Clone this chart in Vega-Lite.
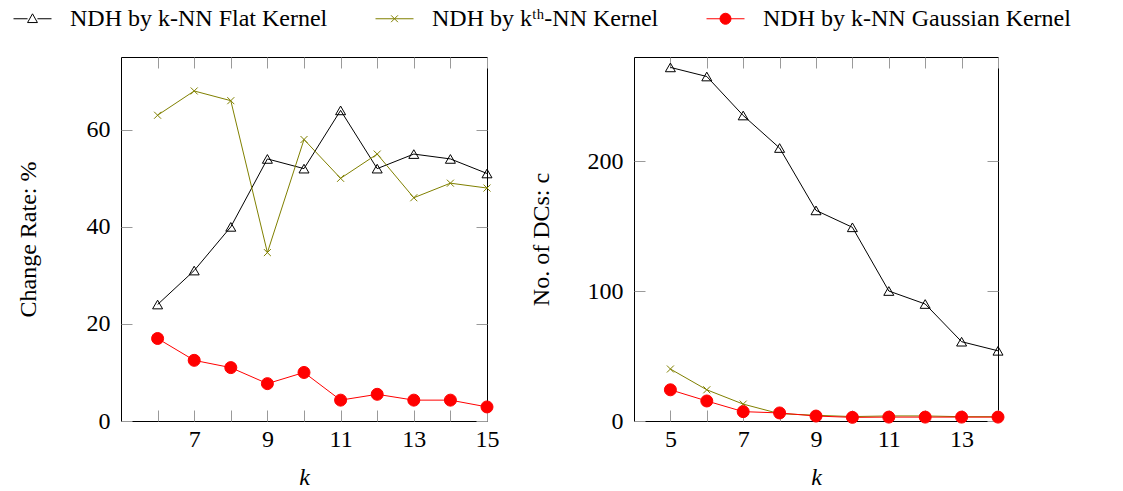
{
  "$schema": "https://vega.github.io/schema/vega-lite/v6.json",
  "padding": {"left": 12, "top": -2, "right": 5, "bottom": 5},
  "background": "white",
  "bounds": "flush",
  "spacing": 147,
  "config": {
    "font": "'Liberation Serif', 'DejaVu Serif', serif",
    "view": {"stroke": "black", "strokeWidth": 1},
    "axis": {
      "labelFont": "'Liberation Serif', 'DejaVu Serif', serif", "labelFontSize": 24, "labelColor": "black",
      "titleFont": "'Liberation Serif', 'DejaVu Serif', serif", "titleFontSize": 24, "titleFontWeight": "normal", "titleColor": "black",
      "tickColor": "#9a9a9a", "tickSize": -11, "tickWidth": 1, "domain": false, "grid": false,
      "labelFlush": false, "labelOverlap": false
    },
    "axisX": {"labelPadding": 36, "labelBaseline": "alphabetic"},
    "axisY": {"labelPadding": 22}
  },
  "datasets": {
    "left": [
      {"k": 6, "series": "NDH by k-NN Flat Kernel", "v": 24},
      {"k": 7, "series": "NDH by k-NN Flat Kernel", "v": 31},
      {"k": 8, "series": "NDH by k-NN Flat Kernel", "v": 40},
      {"k": 9, "series": "NDH by k-NN Flat Kernel", "v": 54},
      {"k": 10, "series": "NDH by k-NN Flat Kernel", "v": 52},
      {"k": 11, "series": "NDH by k-NN Flat Kernel", "v": 64},
      {"k": 12, "series": "NDH by k-NN Flat Kernel", "v": 52},
      {"k": 13, "series": "NDH by k-NN Flat Kernel", "v": 55},
      {"k": 14, "series": "NDH by k-NN Flat Kernel", "v": 54},
      {"k": 15, "series": "NDH by k-NN Flat Kernel", "v": 51},
      {"k": 6, "series": "NDH by kᵗʰ-NN Kernel", "v": 63},
      {"k": 7, "series": "NDH by kᵗʰ-NN Kernel", "v": 68},
      {"k": 8, "series": "NDH by kᵗʰ-NN Kernel", "v": 66},
      {"k": 9, "series": "NDH by kᵗʰ-NN Kernel", "v": 34.7},
      {"k": 10, "series": "NDH by kᵗʰ-NN Kernel", "v": 58},
      {"k": 11, "series": "NDH by kᵗʰ-NN Kernel", "v": 50},
      {"k": 12, "series": "NDH by kᵗʰ-NN Kernel", "v": 55},
      {"k": 13, "series": "NDH by kᵗʰ-NN Kernel", "v": 46},
      {"k": 14, "series": "NDH by kᵗʰ-NN Kernel", "v": 49},
      {"k": 15, "series": "NDH by kᵗʰ-NN Kernel", "v": 48},
      {"k": 6, "series": "NDH by k-NN Gaussian Kernel", "v": 17},
      {"k": 7, "series": "NDH by k-NN Gaussian Kernel", "v": 12.5},
      {"k": 8, "series": "NDH by k-NN Gaussian Kernel", "v": 11},
      {"k": 9, "series": "NDH by k-NN Gaussian Kernel", "v": 7.7},
      {"k": 10, "series": "NDH by k-NN Gaussian Kernel", "v": 10},
      {"k": 11, "series": "NDH by k-NN Gaussian Kernel", "v": 4.3},
      {"k": 12, "series": "NDH by k-NN Gaussian Kernel", "v": 5.5},
      {"k": 13, "series": "NDH by k-NN Gaussian Kernel", "v": 4.3},
      {"k": 14, "series": "NDH by k-NN Gaussian Kernel", "v": 4.3},
      {"k": 15, "series": "NDH by k-NN Gaussian Kernel", "v": 2.9}
    ],
    "right": [
      {"k": 5, "series": "NDH by k-NN Flat Kernel", "v": 272},
      {"k": 6, "series": "NDH by k-NN Flat Kernel", "v": 265},
      {"k": 7, "series": "NDH by k-NN Flat Kernel", "v": 235},
      {"k": 8, "series": "NDH by k-NN Flat Kernel", "v": 210},
      {"k": 9, "series": "NDH by k-NN Flat Kernel", "v": 162},
      {"k": 10, "series": "NDH by k-NN Flat Kernel", "v": 149},
      {"k": 11, "series": "NDH by k-NN Flat Kernel", "v": 100},
      {"k": 12, "series": "NDH by k-NN Flat Kernel", "v": 90},
      {"k": 13, "series": "NDH by k-NN Flat Kernel", "v": 61},
      {"k": 14, "series": "NDH by k-NN Flat Kernel", "v": 54},
      {"k": 5, "series": "NDH by kᵗʰ-NN Kernel", "v": 40},
      {"k": 6, "series": "NDH by kᵗʰ-NN Kernel", "v": 24},
      {"k": 7, "series": "NDH by kᵗʰ-NN Kernel", "v": 13},
      {"k": 8, "series": "NDH by kᵗʰ-NN Kernel", "v": 5.6},
      {"k": 9, "series": "NDH by kᵗʰ-NN Kernel", "v": 4.4},
      {"k": 10, "series": "NDH by kᵗʰ-NN Kernel", "v": 3.4},
      {"k": 11, "series": "NDH by kᵗʰ-NN Kernel", "v": 3.9},
      {"k": 12, "series": "NDH by kᵗʰ-NN Kernel", "v": 3.9},
      {"k": 13, "series": "NDH by kᵗʰ-NN Kernel", "v": 3.3},
      {"k": 14, "series": "NDH by kᵗʰ-NN Kernel", "v": 3.3},
      {"k": 5, "series": "NDH by k-NN Gaussian Kernel", "v": 24},
      {"k": 6, "series": "NDH by k-NN Gaussian Kernel", "v": 15.4},
      {"k": 7, "series": "NDH by k-NN Gaussian Kernel", "v": 7.2},
      {"k": 8, "series": "NDH by k-NN Gaussian Kernel", "v": 6.2},
      {"k": 9, "series": "NDH by k-NN Gaussian Kernel", "v": 3.8},
      {"k": 10, "series": "NDH by k-NN Gaussian Kernel", "v": 2.8},
      {"k": 11, "series": "NDH by k-NN Gaussian Kernel", "v": 3},
      {"k": 12, "series": "NDH by k-NN Gaussian Kernel", "v": 3},
      {"k": 13, "series": "NDH by k-NN Gaussian Kernel", "v": 3},
      {"k": 14, "series": "NDH by k-NN Gaussian Kernel", "v": 3}
    ]
  },
  "resolve": {
    "scale": {"x": "independent", "y": "independent", "color": "independent"},
    "legend": {"color": "independent"}
  },
  "hconcat": [
    {
      "width": 366, "height": 364,
      "data": {"name": "left"},
      "layer": [
        {
          "mark": {"type": "line", "strokeWidth": 1},
          "encoding": {
            "x": {"field": "k", "type": "quantitative", "scale": {"domain": [5, 15], "nice": false, "zero": false},
                  "axis": {"orient": "bottom", "values": [6, 7, 8, 9, 10, 11, 12, 13, 14, 15], "labelExpr": "datum.value % 2 == 1 ? datum.label : ''",
                           "title": "k", "titleFontStyle": "italic", "titleY": 63, "titleBaseline": "alphabetic"}},
            "y": {"field": "v", "type": "quantitative", "scale": {"domain": [0, 75], "nice": false},
                  "axis": {"orient": "left", "values": [0, 20, 40, 60], "title": "Change Rate: %", "titleX": -86, "titleBaseline": "alphabetic"}},
            "color": {"field": "series", "type": "nominal",
                      "scale": {"domain": ["NDH by k-NN Flat Kernel", "NDH by kᵗʰ-NN Kernel", "NDH by k-NN Gaussian Kernel"], "range": ["#000000", "#808000", "#ff0000"]},
                      "legend": {
                        "orient": "none", "legendX": -108, "legendY": -58, "direction": "horizontal", "title": null,
                        "labelFont": "'Liberation Serif', 'DejaVu Serif', serif", "labelFontSize": 24, "labelColor": "black", "labelLimit": 0,
                        "symbolSize": 1444, "labelOffset": 18, "columnPadding": 45, "padding": 0,
                        "encode": {
                          "symbols": {
                            "update": {
                              "shape": {"signal": "datum.value === 'NDH by k-NN Flat Kernel' ? 'M-1,0H-0.26M0.26,0H1M0,-0.26L0.26,0.2L-0.26,0.2Z' : (datum.value === 'NDH by k-NN Gaussian Kernel' ? 'M-1,0H1M0.29,0A0.29,0.29,0,1,1,-0.29,0A0.29,0.29,0,1,1,0.29,0Z' : 'M-1,0H1M-0.18,-0.18L0.18,0.18M-0.18,0.18L0.18,-0.18')"},
                              "fill": {"signal": "datum.value === 'NDH by k-NN Gaussian Kernel' ? '#ff0000' : 'transparent'"},
                              "stroke": {"signal": "datum.value === 'NDH by k-NN Flat Kernel' ? '#000000' : (datum.value === 'NDH by k-NN Gaussian Kernel' ? '#ff0000' : '#808000')"},
                              "strokeWidth": {"value": 1},
                              "opacity": {"value": 1}
                            }
                          }
                        }
                      }}
          }
        },
        {
          "transform": [{"filter": "datum.series === 'NDH by k-NN Flat Kernel'"}],
          "mark": {"type": "point", "shape": "triangle-up", "size": 100, "stroke": "#000000", "fill": "transparent", "strokeWidth": 1, "opacity": 1},
          "encoding": {
            "x": {"field": "k", "type": "quantitative", "scale": {"domain": [5, 15], "nice": false, "zero": false},
                  "axis": {"orient": "top", "values": [6, 7, 8, 9, 10, 11, 12, 13, 14, 15], "labels": false, "title": null}},
            "y": {"field": "v", "type": "quantitative", "scale": {"domain": [0, 75], "nice": false},
                  "axis": {"orient": "right", "values": [0, 20, 40, 60], "labels": false, "title": null}}
          }
        },
        {
          "transform": [{"filter": "datum.series === 'NDH by kᵗʰ-NN Kernel'"}],
          "mark": {"type": "point", "shape": "M-1,-1L1,1M-1,1L1,-1", "size": 49, "stroke": "#808000", "fill": "transparent", "strokeWidth": 1, "opacity": 1},
          "encoding": {
            "x": {"field": "k", "type": "quantitative", "axis": null},
            "y": {"field": "v", "type": "quantitative", "axis": null}
          }
        },
        {
          "transform": [{"filter": "datum.series === 'NDH by k-NN Gaussian Kernel'"}],
          "mark": {"type": "point", "shape": "circle", "size": 144, "stroke": "#ff0000", "fill": "#ff0000", "filled": true, "strokeWidth": 1, "opacity": 1},
          "encoding": {
            "x": {"field": "k", "type": "quantitative", "axis": null},
            "y": {"field": "v", "type": "quantitative", "axis": null}
          }
        }
      ],
      "resolve": {"axis": {"x": "independent", "y": "independent"}}
    },
    {
      "width": 364, "height": 364,
      "data": {"name": "right"},
      "layer": [
        {
          "mark": {"type": "line", "strokeWidth": 1},
          "encoding": {
            "x": {"field": "k", "type": "quantitative", "scale": {"domain": [4, 14], "nice": false, "zero": false},
                  "axis": {"orient": "bottom", "values": [5, 6, 7, 8, 9, 10, 11, 12, 13, 14], "labelExpr": "datum.value % 2 == 1 ? datum.label : ''",
                           "title": "k", "titleFontStyle": "italic", "titleY": 63, "titleBaseline": "alphabetic"}},
            "y": {"field": "v", "type": "quantitative", "scale": {"domain": [0, 280], "nice": false},
                  "axis": {"orient": "left", "values": [0, 100, 200], "title": "No. of DCs: c", "titleX": -86, "titleBaseline": "alphabetic"}},
            "color": {"field": "series", "type": "nominal",
                      "scale": {"domain": ["NDH by k-NN Flat Kernel", "NDH by kᵗʰ-NN Kernel", "NDH by k-NN Gaussian Kernel"], "range": ["#000000", "#808000", "#ff0000"]},
                      "legend": null}
          }
        },
        {
          "transform": [{"filter": "datum.series === 'NDH by k-NN Flat Kernel'"}],
          "mark": {"type": "point", "shape": "triangle-up", "size": 100, "stroke": "#000000", "fill": "transparent", "strokeWidth": 1, "opacity": 1},
          "encoding": {
            "x": {"field": "k", "type": "quantitative", "scale": {"domain": [4, 14], "nice": false, "zero": false},
                  "axis": {"orient": "top", "values": [5, 6, 7, 8, 9, 10, 11, 12, 13, 14], "labels": false, "title": null}},
            "y": {"field": "v", "type": "quantitative", "scale": {"domain": [0, 280], "nice": false},
                  "axis": {"orient": "right", "values": [0, 100, 200], "labels": false, "title": null}}
          }
        },
        {
          "transform": [{"filter": "datum.series === 'NDH by kᵗʰ-NN Kernel'"}],
          "mark": {"type": "point", "shape": "M-1,-1L1,1M-1,1L1,-1", "size": 49, "stroke": "#808000", "fill": "transparent", "strokeWidth": 1, "opacity": 1},
          "encoding": {
            "x": {"field": "k", "type": "quantitative", "axis": null},
            "y": {"field": "v", "type": "quantitative", "axis": null}
          }
        },
        {
          "transform": [{"filter": "datum.series === 'NDH by k-NN Gaussian Kernel'"}],
          "mark": {"type": "point", "shape": "circle", "size": 144, "stroke": "#ff0000", "fill": "#ff0000", "filled": true, "strokeWidth": 1, "opacity": 1},
          "encoding": {
            "x": {"field": "k", "type": "quantitative", "axis": null},
            "y": {"field": "v", "type": "quantitative", "axis": null}
          }
        }
      ],
      "resolve": {"axis": {"x": "independent", "y": "independent"}}
    }
  ]
}
